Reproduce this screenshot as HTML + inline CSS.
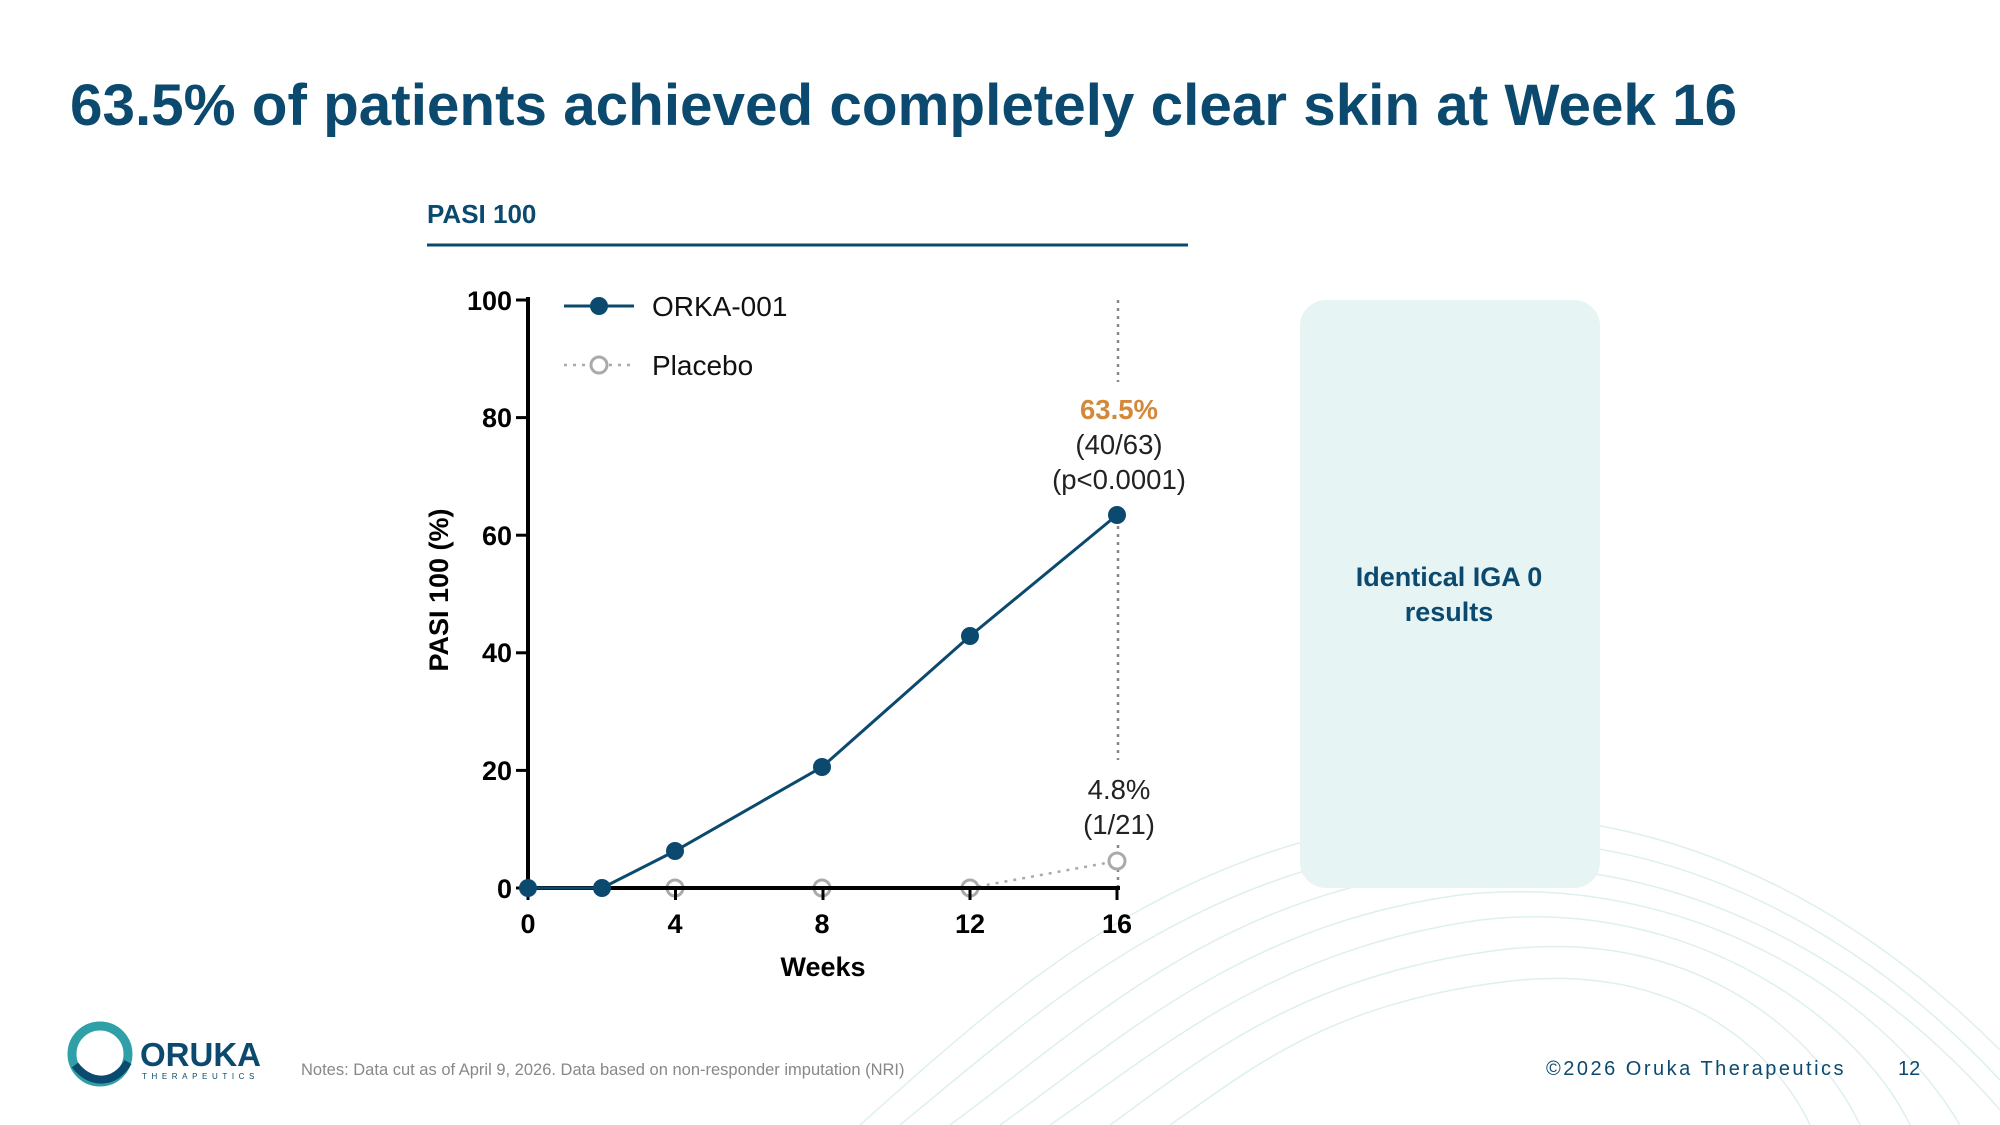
<!DOCTYPE html>
<html><head><meta charset="utf-8"><style>
html,body{margin:0;padding:0;background:#fff;}
body{width:2000px;height:1125px;position:relative;overflow:hidden;font-family:"Liberation Sans",Arial,sans-serif;}
</style></head><body>
<svg width="2000" height="1125" viewBox="0 0 2000 1125" xmlns="http://www.w3.org/2000/svg" style="position:absolute;left:0;top:0">
<g fill="none" stroke="#d6ecec" stroke-width="1.5" opacity="0.8">
<path d="M860 1125 C1000 1000 1150 860 1400 820 C1650 790 1850 900 2000 1050"/>
<path d="M900 1125 C1040 1010 1180 880 1420 845 C1660 815 1860 930 2000 1080"/>
<path d="M950 1125 C1080 1030 1210 900 1440 870 C1670 845 1870 960 2000 1110"/>
<path d="M1000 1125 C1120 1040 1240 925 1460 895 C1680 870 1880 990 1960 1125"/>
<path d="M1050 1125 C1160 1050 1270 950 1480 920 C1690 895 1860 1020 1910 1125"/>
<path d="M1110 1125 C1200 1060 1300 975 1500 950 C1700 925 1820 1040 1860 1125"/>
<path d="M1170 1125 C1250 1070 1330 1000 1520 980 C1690 965 1780 1060 1810 1125"/>
</g>
<rect x="1300" y="300" width="300" height="588" rx="26" fill="#e6f4f4"/>
<text x="70" y="125" font-size="58.4" font-weight="bold" fill="#0b4a6e">63.5% of patients achieved completely clear skin at Week 16</text>
<text x="427" y="223" font-size="26" font-weight="bold" fill="#0b4a6e">PASI 100</text>
<line x1="427" y1="245" x2="1188" y2="245" stroke="#0b4a6e" stroke-width="3"/>
<text x="1449" y="586" font-size="27" font-weight="bold" fill="#0b4a6e" text-anchor="middle">Identical IGA 0</text>
<text x="1449" y="621" font-size="27" font-weight="bold" fill="#0b4a6e" text-anchor="middle">results</text>
<line x1="1118" y1="300" x2="1118" y2="382" stroke="#888" stroke-width="2.5" stroke-dasharray="3,5"/>
<line x1="1118" y1="510" x2="1118" y2="760" stroke="#888" stroke-width="2.5" stroke-dasharray="3,5"/>
<line x1="1118" y1="845" x2="1118" y2="888" stroke="#888" stroke-width="2.5" stroke-dasharray="3,5"/>
<polyline points="528,888 675,888 822,888 970,888 1117,861" fill="none" stroke="#aaa" stroke-width="2.5" stroke-dasharray="3,6"/>
<g fill="#fff" stroke="#aaa" stroke-width="3">
<circle cx="675" cy="888" r="8"/><circle cx="822" cy="888" r="8"/><circle cx="970" cy="888" r="8"/><circle cx="1117" cy="861" r="8"/>
</g>
<g stroke="#000" stroke-width="4" fill="none">
<line x1="528" y1="297" x2="528" y2="890"/>
<line x1="526" y1="888" x2="1120" y2="888"/>
</g>
<g stroke="#000" stroke-width="3">
<line x1="516" y1="300" x2="528" y2="300"/><line x1="516" y1="417.6" x2="528" y2="417.6"/><line x1="516" y1="535.2" x2="528" y2="535.2"/><line x1="516" y1="652.8" x2="528" y2="652.8"/><line x1="516" y1="770.4" x2="528" y2="770.4"/><line x1="516" y1="888" x2="528" y2="888"/>
<line x1="528" y1="888" x2="528" y2="900"/><line x1="675.5" y1="888" x2="675.5" y2="900"/><line x1="823" y1="888" x2="823" y2="900"/><line x1="970" y1="888" x2="970" y2="900"/><line x1="1117" y1="888" x2="1117" y2="900"/>
</g>
<g font-size="27" font-weight="bold" fill="#000" text-anchor="end">
<text x="512" y="310">100</text><text x="512" y="427">80</text><text x="512" y="545">60</text><text x="512" y="662">40</text><text x="512" y="780">20</text><text x="512" y="898">0</text>
</g>
<g font-size="27" font-weight="bold" fill="#000" text-anchor="middle">
<text x="528" y="933">0</text><text x="675" y="933">4</text><text x="822" y="933">8</text><text x="970" y="933">12</text><text x="1117" y="933">16</text>
</g>
<text x="823" y="976" font-size="27" font-weight="bold" text-anchor="middle">Weeks</text>
<text transform="translate(448,590) rotate(-90)" font-size="27" font-weight="bold" text-anchor="middle">PASI 100 (%)</text>
<polyline points="528,888 602,888 675,851 822,767 970,636 1117,515" fill="none" stroke="#0b4a6e" stroke-width="3"/>
<g fill="#0b4a6e">
<circle cx="528" cy="888" r="9"/><circle cx="602" cy="888" r="9"/><circle cx="675" cy="851" r="9"/><circle cx="822" cy="767" r="9"/><circle cx="970" cy="636" r="9"/><circle cx="1117" cy="515" r="9"/>
</g>
<line x1="564" y1="306" x2="634" y2="306" stroke="#0b4a6e" stroke-width="3"/>
<circle cx="599" cy="306" r="9" fill="#0b4a6e"/>
<text x="652" y="316" font-size="28" fill="#111">ORKA-001</text>
<line x1="564" y1="365" x2="634" y2="365" stroke="#aaa" stroke-width="2.5" stroke-dasharray="3,6"/>
<circle cx="599" cy="365" r="8" fill="#fff" stroke="#aaa" stroke-width="3"/>
<text x="652" y="375" font-size="28" fill="#111">Placebo</text>
<g font-size="27.5" text-anchor="middle" fill="#222">
<text x="1119" y="419" font-weight="bold" fill="#d4883a">63.5%</text>
<text x="1119" y="454">(40/63)</text>
<text x="1119" y="489">(p&lt;0.0001)</text>
<text x="1119" y="799">4.8%</text>
<text x="1119" y="834">(1/21)</text>
</g>
<circle cx="100" cy="1054" r="28" fill="none" stroke="#2fa0a8" stroke-width="9"/>
<path d="M75 1065 C90 1085 115 1085 128 1062" fill="none" stroke="#0b4a6e" stroke-width="8"/>
<text x="140" y="1066" font-size="33" font-weight="bold" fill="#0b4a6e">ORUKA</text>
<text x="142" y="1079" font-size="8" fill="#0b4a6e" letter-spacing="4.6">THERAPEUTICS</text>
<text x="301" y="1075" font-size="16.5" fill="#888">Notes: Data cut as of April 9, 2026. Data based on non-responder imputation (NRI)</text>
<text x="1546" y="1075" font-size="20" fill="#0b4a6e" letter-spacing="2.5">©2026 Oruka Therapeutics</text>
<text x="1898" y="1075" font-size="20" fill="#0b4a6e">12</text>
</svg>
</body></html>
